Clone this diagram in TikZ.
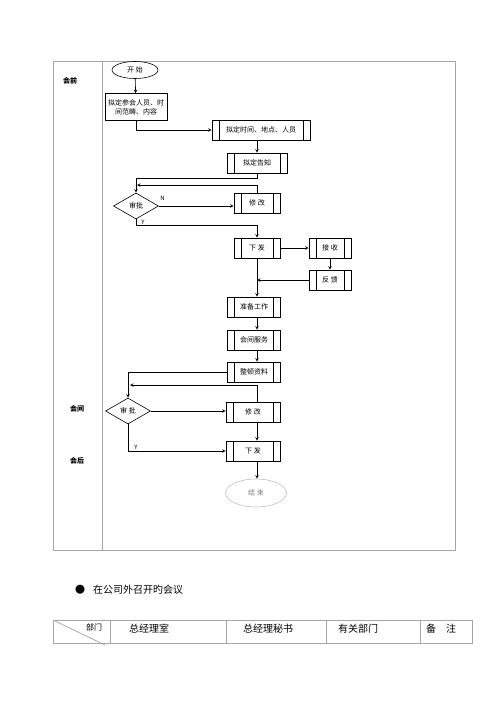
\documentclass[tikz,border=0pt]{standalone}
\usepackage{fontspec}
\setmainfont{Noto Sans CJK SC}
\usetikzlibrary{shapes.geometric}

\begin{document}
\begin{tikzpicture}[x=1pt,y=-1pt]
\tikzstyle{every node}+=[inner sep=0pt, font=\fontsize{7}{9}\selectfont]
\tikzstyle{proc}=[draw, line width=0.6pt, minimum height=20pt,
  path picture={\draw ([xshift=7pt]path picture bounding box.north west) -- ([xshift=7pt]path picture bounding box.south west)
  ([xshift=-7pt]path picture bounding box.north east) -- ([xshift=-7pt]path picture bounding box.south east);}]
\tikzstyle{dec}=[draw, line width=0.6pt, diamond, minimum width=45pt, minimum height=26pt]
\tikzstyle{line}=[draw, line width=0.6pt]
\tikzstyle{arr}=[line, ->, >=stealth]
\tikzstyle{frame}=[draw, gray!70, line width=0.8pt]
\useasboundingbox (0,0) rectangle (500,707);
\draw [frame] (53,61) rectangle (455,550);
\draw [frame] (102,61) -- (102,550);
\node [font=\fontsize{7}{9}\selectfont\bfseries] (pre) at (70,81) {会前};
\node [font=\fontsize{7}{9}\selectfont\bfseries] (mid) at (77,409) {会间};
\node [font=\fontsize{7}{9}\selectfont\bfseries] (post) at (77,461) {会后};
\node [draw, ellipse, line width=0.6pt, minimum width=46pt, minimum height=17pt] (start) at (135,70) {开\ 始};
\node [draw, line width=0.6pt, minimum width=62pt, minimum height=27pt, align=center] (n1) at (136,107) {拟定参会人员、时\\间范畴、内容};
\node [proc, minimum width=98pt] (n2) at (261,130) {拟定时间、地点、人员};
\node [proc, minimum width=60pt] (n3) at (257,163) {拟定告知};
\node [dec] (d1) at (136,206) {审批};
\node [proc, minimum width=46pt] (m1) at (257,203) {修\ 改};
\node [proc, minimum width=46pt] (x1) at (257,248) {下\ 发};
\node [proc, minimum width=42pt] (r1) at (330,248) {接\ 收};
\node [proc, minimum width=42pt] (f1) at (330,280) {反\ 馈};
\node [proc, minimum width=53pt] (p1) at (254,307) {准备工作};
\node [proc, minimum width=53pt] (s1) at (254,340) {会间服务};
\node [proc, minimum width=53pt] (z1) at (254,372) {整顿资料};
\node [dec] (d2) at (128,411) {审\ 批};
\node [proc, minimum width=54pt] (m2) at (253,412) {修\ 改};
\node [proc, minimum width=54pt] (x2) at (253,451) {下\ 发};
\node [draw, ellipse, gray!50, text=gray, line width=0.6pt, minimum width=61pt, minimum height=28pt] (end) at (256,493) {结\ 束};
\coordinate (k1) at (136,178);
\coordinate (j1) at (137,185);
\coordinate (j2) at (130,385);
\draw [arr] (start) -- (n1);
\draw [arr] (n1.south) |- (n2.west);
\draw [arr] (n2.south -| n3.north) -- (n3.north);
\draw [arr] (n3.south) |- (k1) -- (d1.north);
\draw [arr] (m1.north) |- (j1);
\draw [arr] (d1.east) -- (d1.east -| m1.west) node [pos=0.05, above=5pt, font=\fontsize{6}{7}\selectfont] {N};
\draw [arr] (d1.south) -- ++(0,6) -| (x1.north);
\node [font=\fontsize{6}{7}\selectfont] (y1) at (143,222) {Y};
\draw [arr] (x1.east) -- (r1.west);
\draw [arr] (r1.south) -- (f1.north);
\draw [arr] (f1.west) -- (f1.west -| x1.south);
\draw [arr] (x1.south) -- (x1.south |- p1.north);
\draw [arr] ([xshift=3pt]p1.south) -- ([xshift=3pt]s1.north);
\draw [arr] ([xshift=3pt]s1.south) -- ([xshift=3pt]z1.north);
\draw [arr] (z1.west) -| (d2.north);
\draw [arr] ([xshift=4pt]m2.north) |- (j2);
\draw [arr] (d2.east) -- (d2.east -| m2.west);
\draw [arr] ([xshift=4pt]m2.south) -- ([xshift=4pt]x2.north);
\draw [arr] (d2.south) |- (x2.west);
\node [font=\fontsize{6}{7}\selectfont] (y2) at (136,447) {Y};
\draw [arr] ([xshift=4pt]x2.south) -- ([xshift=4pt]x2.south |- end.north);
\node [font=\fontsize{10}{12}\selectfont] (dot) at (80,590) {●};
\node [anchor=west, font=\fontsize{10}{12}\selectfont] (title) at (93,590) {在公司外召开旳会议};
\draw [frame] (53,620) rectangle (472,643);
\draw [frame] (110,620) -- (110,643);
\draw [frame] (226,620) -- (226,643);
\draw [frame] (326,620) -- (326,643);
\draw [frame] (420,620) -- (420,643);
\draw [line, gray!80] (55,621) -- (105,645);
\node [font=\fontsize{8}{9}\selectfont] (c0) at (94,627) {部门};
\node [font=\fontsize{10}{12}\selectfont] (c1) at (149,629) {总经理室};
\node [font=\fontsize{10}{12}\selectfont] (c2) at (268,629) {总经理秘书};
\node [font=\fontsize{10}{12}\selectfont] (c3) at (358,629) {有关部门};
\node [font=\fontsize{10}{12}\selectfont] (c4) at (441,629) {备\quad 注};
\end{tikzpicture}
\end{document}
